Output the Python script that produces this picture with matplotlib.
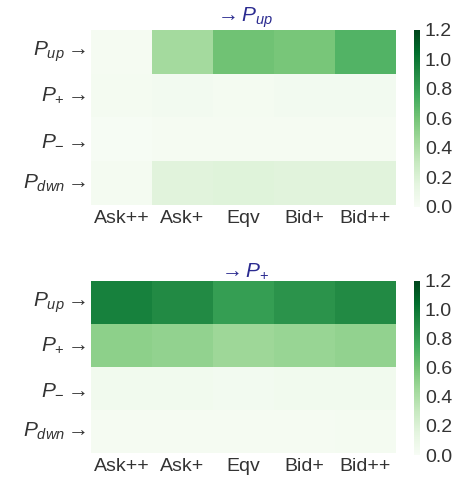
import numpy as np
import matplotlib.pyplot as plt
import seaborn as sns

plt.rcParams['font.family'] = ['Liberation Sans', 'DejaVu Sans']
plt.rcParams['mathtext.fontset'] = 'custom'
plt.rcParams['mathtext.it'] = 'Liberation Sans:italic'
plt.rcParams['mathtext.rm'] = 'Liberation Sans'

# データ
cols = ['Ask++', 'Ask+', 'Eqv', 'Bid+', 'Bid++']
rows = [r'$P_{up}\rightarrow$', r'$P_{+}\rightarrow$', r'$P_{-}\rightarrow$', r'$P_{dwn}\rightarrow$']
titles = [r'$\rightarrow P_{up}$', r'$\rightarrow P_{+}$']

to_up = [[0.02, 0.44, 0.61, 0.59, 0.70],
         [0.03, 0.04, 0.03, 0.04, 0.04],
         [0.01, 0.02, 0.02, 0.02, 0.02],
         [0.03, 0.17, 0.18, 0.17, 0.17]]
to_plus = [[0.95, 0.90, 0.81, 0.86, 0.90],
           [0.52, 0.50, 0.46, 0.48, 0.50],
           [0.05, 0.05, 0.04, 0.05, 0.05],
           [0.02, 0.02, 0.02, 0.02, 0.03]]

fig = plt.figure(figsize=(4.64, 4.80), dpi=100)

layout = [([0.196, 0.573, 0.657, 0.365], [0.892, 0.569, 0.013, 0.369]),
          ([0.196, 0.056, 0.657, 0.358], [0.892, 0.052, 0.013, 0.363])]

for data, title, (ax_pos, cb_pos) in zip([to_up, to_plus], titles, layout):
    ax = fig.add_axes(ax_pos)
    cax = fig.add_axes(cb_pos)
    sns.heatmap(np.array(data), ax=ax, cbar_ax=cax, cmap='Greens', vmin=0, vmax=1.2,
                xticklabels=cols, yticklabels=rows)
    ax.tick_params(length=0, labelsize=14, colors='#333333')
    ax.set_yticklabels(rows, rotation=0, fontsize=15)
    ax.set_title(title, color='#2b2b90', fontsize=15, pad=0)
    cax.tick_params(length=0, labelsize=14, colors='#333333')
    cax.set_yticks([0, 0.2, 0.4, 0.6, 0.8, 1.0, 1.2])
    for s in cax.spines.values():
        s.set_visible(False)

plt.savefig('out.png')
